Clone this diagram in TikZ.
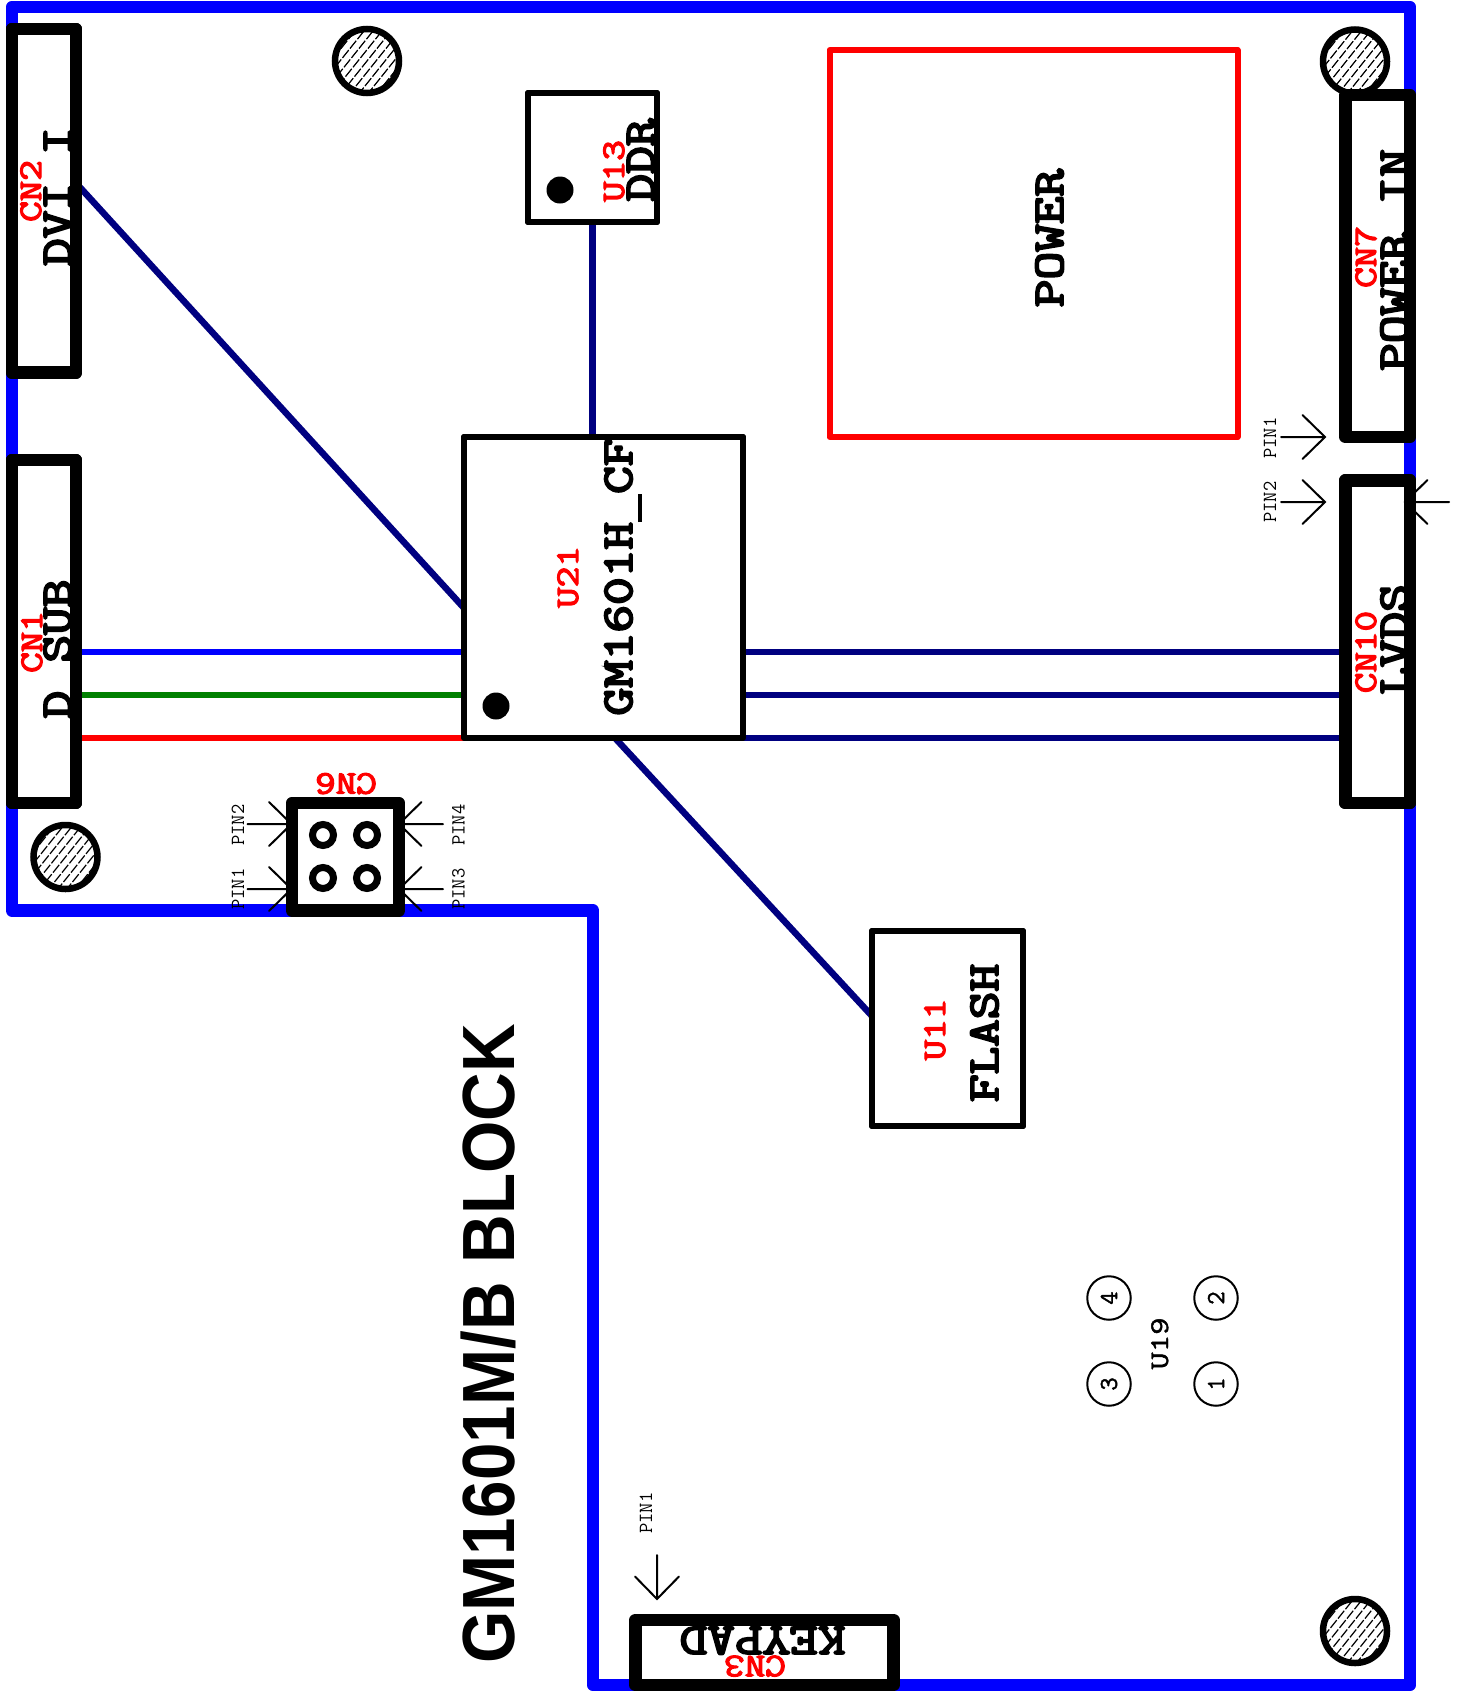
\documentclass[tikz,border=0pt]{standalone}
\usepackage{fontspec}
\newfontfamily\titlefont{Liberation Sans}
\newfontfamily\fatmono{Latin Modern Mono}[FakeBold=4.2]
\newfontfamily\redmono{Latin Modern Mono}[FakeBold=3.5]
\newfontfamily\midmono{Latin Modern Mono}[FakeBold=1.5]
\newcommand{\usc}{\makebox[0.525em]{\rule[-0.22em]{0.525em}{0.08em}}}
\newcommand{\uscb}{\makebox[0.525em]{\rule[-0.17em]{0.525em}{0.07em}}}
\definecolor{navyw}{HTML}{000080}
\definecolor{greenw}{HTML}{008000}
\tikzset{
  conn/.style={draw=black,line width=12.5pt,line join=round,inner sep=0pt,outer sep=0pt,rectangle},
  chipbox/.style={draw=black,line width=6pt,line join=round,inner sep=0pt,outer sep=0pt,rectangle},
  powerbox/.style={draw=red,line width=6pt,line join=round,inner sep=0pt,outer sep=0pt,rectangle},
  wire/.style={line width=6.5pt,draw=navyw},
  pinline/.style={line width=2pt,draw=black},
  bigbase/.style={anchor=base,inner sep=0pt,xscale=1.22,transform shape,font=\fontsize{44}{44}\selectfont\fatmono,text=black},
  redbase/.style={anchor=base,inner sep=0pt,xscale=1.21,transform shape,font=\fontsize{33}{33}\selectfont\redmono,text=red},
  bigt/.style={rotate=90,bigbase},
  redt/.style={rotate=90,redbase},
  bigflip/.style={rotate=180,bigbase},
  redflip/.style={rotate=180,redbase},
  pint/.style={rotate=90,anchor=base,inner sep=0pt,font=\fontsize{20}{20}\selectfont\ttfamily,text=black},
  smallt/.style={rotate=90,anchor=base,inner sep=0pt,xscale=1.25,transform shape,font=\fontsize{27}{27}\selectfont\midmono,text=black},
  digit/.style={circle,draw=black,line width=2pt,minimum size=43.5pt,inner sep=0pt,outer sep=0pt,font=\fontsize{26}{26}\selectfont\midmono,rotate=90},
  holepad/.style={circle,draw=black,line width=7pt,minimum size=21pt,inner sep=0pt,outer sep=0pt},
  dot/.style={circle,fill=black,minimum size=27pt,inner sep=0pt,outer sep=0pt},
  hatch/.style={line width=1.2pt,draw=black,dash pattern=on 10pt off 2pt},
}
\newcommand{\mounthole}[3]{%
  \begin{scope}
    \clip (#1,#2) circle (32pt);
    \foreach \d in {-90,-81,...,90}{
      \draw[hatch] ({#1+\d-50},{#2+50*1.25}) -- ({#1+\d+50},{#2-50*1.25});
    }
  \end{scope}
  \node[circle,draw=black,line width=6.5pt,minimum size=64pt,inner sep=0pt,outer sep=0pt] (#3) at (#1,#2) {};
}
\newcommand{\pinarrow}[3]{%
  \begin{scope}[shift={(#1,#2)},rotate=#3]
    \draw[pinline,line cap=round] (-44,0) -- (0,0) (-22.5,22) -- (0,0) -- (-22.5,-22);
  \end{scope}
}
\begin{document}
\begin{tikzpicture}[x=1pt,y=-1pt]
\useasboundingbox (0,0) rectangle (1458,1692);
\fill[white] (0,0) rectangle (1458,1692);
% board outline
\draw[draw=blue,line width=12.5pt,line join=round] (12,7) -- (1410,7) -- (1410,1685) -- (593,1685) -- (593,910.5) -- (12,910.5) -- cycle;
% nodes
\node[conn,minimum width=64pt,minimum height=343.5pt] (cn2) at (44,200.75) {};
\node[conn,minimum width=64pt,minimum height=343pt] (cn1) at (44,631.5) {};
\node[conn,minimum width=64.5pt,minimum height=342pt] (cn7) at (1377.75,266) {};
\node[conn,minimum width=64.5pt,minimum height=322.5pt] (cn10) at (1377.75,641.75) {};
\node[conn,minimum width=107pt,minimum height=107.5pt] (cn6) at (345.5,856.75) {};
\node[conn,minimum width=258pt,minimum height=65pt] (cn3) at (764.5,1652.5) {};
\node[chipbox,minimum width=279pt,minimum height=301pt] (u21) at (603.5,587.5) {};
\node[chipbox,minimum width=129pt,minimum height=129pt] (u13) at (592.5,157.5) {};
\node[chipbox,minimum width=151pt,minimum height=195pt] (u11) at (947.5,1028.5) {};
\node[powerbox,minimum width=408pt,minimum height=387pt] (pwr) at (1033.5,243.5) {};
% connection points on the slanted wires
\coordinate (dviend) at (464,608);
\coordinate (flashtop) at (615,738);
\coordinate (flashend) at (872,1016);
% wires
\draw[wire] (cn2.east |- 0,183) -- (dviend);
\draw[wire] (u13.south) -- (u13.south |- u21.north);
\draw[wire,draw=blue] (cn1.east |- 0,652) -- (u21.west |- 0,652);
\draw[wire,draw=greenw] (cn1.east |- 0,695) -- (u21.west |- 0,695);
\draw[wire,draw=red] (cn1.east |- 0,738) -- (u21.west |- 0,738);
\draw[wire] (u21.east |- 0,652) -- (cn10.west |- 0,652);
\draw[wire] (u21.east |- 0,695) -- (cn10.west |- 0,695);
\draw[wire] (u21.east |- 0,738) -- (cn10.west |- 0,738);
\draw[wire] (flashtop) -- (flashend);
% borders again, over the wire ends
\draw[black,line width=12.5pt,line join=round] (cn2.south west) rectangle (cn2.north east);
\draw[black,line width=12.5pt,line join=round] (cn1.south west) rectangle (cn1.north east);
\draw[black,line width=12.5pt,line join=round] (cn10.south west) rectangle (cn10.north east);
\draw[black,line width=6pt,line join=round] (u21.south west) rectangle (u21.north east);
\draw[black,line width=6pt,line join=round] (u11.south west) rectangle (u11.north east);
\draw[black,line width=6pt,line join=round] (u13.south west) rectangle (u13.north east);
% dots and pads
\node[dot] (d1) at (496,706) {};
\node[dot] (d2) at (560,190) {};
\node[holepad] (p1) at (323,835) {};
\node[holepad] (p2) at (367,835) {};
\node[holepad] (p3) at (323,878) {};
\node[holepad] (p4) at (367,878) {};
% mounting holes
\mounthole{367}{61}{h1}
\mounthole{65.5}{857}{h2}
\mounthole{1355}{61.5}{h3}
\mounthole{1355}{1631}{h4}
% pin arrows
\pinarrow{291.5}{824}{0}
\pinarrow{291.5}{889}{0}
\pinarrow{399}{824}{180}
\pinarrow{399}{889}{180}
\pinarrow{1325}{437}{0}
\pinarrow{1325}{502}{0}
\pinarrow{1405}{502}{180}
\pinarrow{657}{1599}{-90}
% pin labels
\node[pint] (l1) at (244,825) {PIN2};
\node[pint] (l2) at (244,889) {PIN1};
\node[pint] (l3) at (464.5,825) {PIN4};
\node[pint] (l4) at (464.5,889) {PIN3};
\node[pint] (l5) at (1276,438) {PIN1};
\node[pint] (l6) at (1276,502) {PIN2};
\node[pint] (l7) at (652,1513) {PIN1};
% black texts
\node[bigt] (t1) at (71,196.5) {DVI\usc I};
\node[bigt] (t2) at (71,649) {D\usc SUB};
\node[bigt] (t3) at (654,160) {DDR};
\node[bigt] (t4) at (632,577) {GM1601H\usc CF};
\node[bigt] (t5) at (1063,238) {POWER};
\node[bigt] (t6) at (1408,260) {POWER\uscb IN};
\node[bigt] (t7) at (1408,639.5) {LVDS};
\node[bigt] (t8) at (998,1033) {FLASH};
\node[bigflip] (t9) at (762.5,1627) {KEYPAD};
% red texts
\node[redt] (r1) at (41,191) {CN2};
\node[redt] (r2) at (42,642) {CN1};
\node[redt] (r3) at (624,171) {U13};
\node[redt] (r4) at (578,577) {U21};
\node[redt] (r5) at (1376,257) {CN7};
\node[redt] (r6) at (1376,652) {CN10};
\node[redt] (r7) at (945,1029.5) {U11};
\node[redflip] (r8) at (755,1656) {CN3};
\node[redflip] (r9) at (346,773.5) {CN6};
% U19
\node[digit] (u4) at (1109,1298) {4};
\node[digit] (u2) at (1216,1298) {2};
\node[digit] (u3) at (1109,1384) {3};
\node[digit] (u1) at (1216,1384) {1};
\node[smallt] (u19) at (1168,1343.5) {U19};
% title
\node[rotate=90,anchor=base,inner sep=0pt,xscale=0.91,transform shape,font=\fontsize{74}{74}\selectfont\titlefont\bfseries] (title) at (514,1344) {GM1601M/B BLOCK};
\end{tikzpicture}
\end{document}
